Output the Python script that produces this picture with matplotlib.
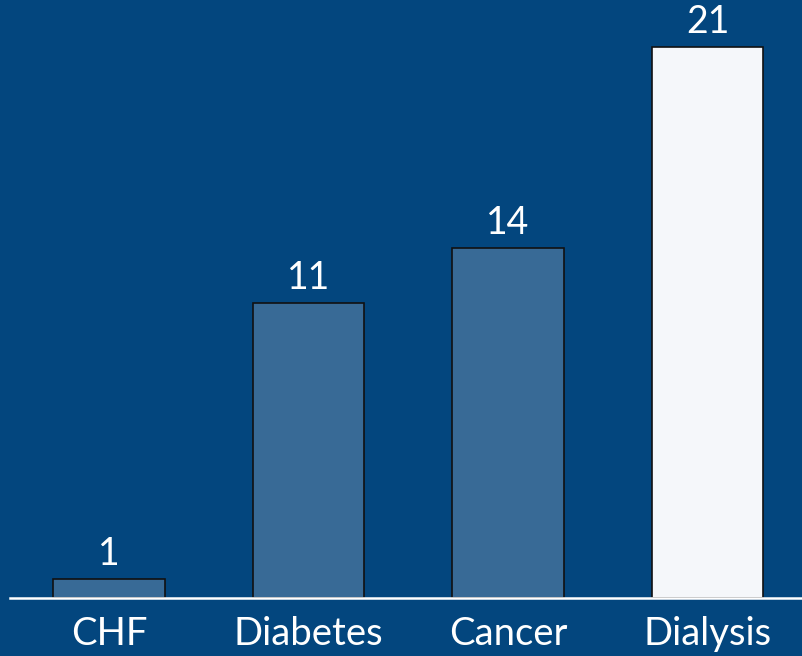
import matplotlib.pyplot as plt

categories = ["CHF", "Diabetes", "Cancer", "Dialysis"]
heights = [0.74, 11.45, 13.6, 21.4]
labels = ["1", "11", "14", "21"]
bar_colors = ["#386a96", "#386a96", "#386a96", "#f5f7fa"]

bg = "#03467e"

fig = plt.figure(figsize=(8.02, 6.56), dpi=100, facecolor=bg)
ax = fig.add_axes([10 / 802, 58 / 656, 792 / 802, 598 / 656])
ax.set_facecolor(bg)

x = range(len(categories))
bars = ax.bar(x, heights, width=0.557, color=bar_colors,
              edgecolor="#111111", linewidth=1.2, zorder=2)

for rect, lab in zip(bars, labels):
    ax.annotate(lab, (rect.get_x() + rect.get_width() / 2, rect.get_height()),
                xytext=(0, 5), textcoords="offset points",
                ha="center", va="bottom", color="white",
                fontsize=27, family="Lato")

ax.set_xlim(-0.496, 3.474)
ax.set_ylim(0, 23.22)

for side in ["left", "right", "top"]:
    ax.spines[side].set_visible(False)
ax.spines["bottom"].set_color("white")
ax.spines["bottom"].set_linewidth(1.8)
ax.spines["bottom"].set_zorder(3)

ax.set_yticks([])
ax.set_xticks(list(x))
ax.set_xticklabels(categories, color="white", fontsize=27.5, family="Lato")
ax.tick_params(axis="x", length=0, pad=13)

fig.savefig("out.png", dpi=100, facecolor=bg)
